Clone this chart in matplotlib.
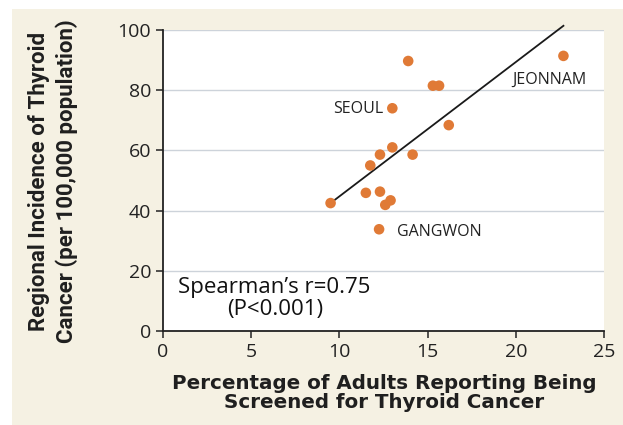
import matplotlib
matplotlib.use("Agg")
import matplotlib.pyplot as plt
from matplotlib.patches import Rectangle

# screening rate (%) vs regional incidence per 100,000
screen_pct = [13.9, 22.7, 15.65, 15.3, 13.0, 16.2, 13.0, 12.3, 14.15, 11.75,
              11.5, 12.3, 12.9, 12.6, 9.5, 12.25]
incidence = [89.7, 91.4, 81.5, 81.5, 74.0, 68.4, 61.0, 58.6, 58.6, 55.0,
             45.9, 46.3, 43.4, 41.9, 42.5, 33.8]

# fitted line endpoints
fit_x = [9.5, 22.7]
fit_y = [42.5, 101.4]

region_labels = ["SEOUL", "JEONNAM", "GANGWON"]
label_x = [12.47, 19.8, 13.27]
label_y = [73.8, 83.4, 33.0]
label_ha = ["right", "left", "left"]

x_ticks = [0, 5, 10, 15, 20, 25]
y_ticks = [0, 20, 40, 60, 80, 100]

cream = "#f5f1e3"
orange = "#e07a36"

fig = plt.figure(figsize=(6.23, 4.25), dpi=100, facecolor=cream)
# white strips at the top and left edge of the scan
fig.patches.append(Rectangle((0, 0), 12 / 623, 1, transform=fig.transFigure,
                             facecolor="white", edgecolor="none", zorder=-5))
fig.patches.append(Rectangle((0, 1 - 9 / 425), 1, 9 / 425, transform=fig.transFigure,
                             facecolor="white", edgecolor="none", zorder=-5))

ax = fig.add_axes([163 / 623, 1 - 331 / 425, 441 / 623, 301 / 425])
ax.set_facecolor("white")

ax.scatter(screen_pct, incidence, s=58, color=orange, edgecolor="none", zorder=3)
ax.plot(fit_x, fit_y, color="#1a1a1a", lw=1.3, zorder=2, clip_on=False)

for lab, lx, ly, ha in zip(region_labels, label_x, label_y, label_ha):
    ax.text(lx, ly, lab, ha=ha, va="center", fontsize=11.5, color="#222222",
            family="Open Sans")

ax.text(6.3, 14.6, "Spearman\u2019s r=0.75", ha="center", va="center",
        fontsize=16, color="#111111", family="Open Sans")
ax.text(6.35, 7.0, "(P<0.001)", ha="center", va="center",
        fontsize=16, color="#111111", family="Open Sans")

ax.set_xlim(0, 25)
ax.set_ylim(0, 100)
ax.set_xticks(x_ticks)
ax.set_yticks(y_ticks)
ax.grid(axis="y", color="#cdd3da", lw=1)
ax.set_axisbelow(True)

for s in ["top", "right"]:
    ax.spines[s].set_visible(False)
for s in ["left", "bottom"]:
    ax.spines[s].set_color("#222222")
    ax.spines[s].set_linewidth(1.3)

ax.tick_params(direction="out", length=5, width=1.1, color="#222222",
               labelsize=14, labelcolor="#222222")
for t in ax.get_xticklabels() + ax.get_yticklabels():
    t.set_family("Open Sans")

fig.text(384 / 623, 1 - 393 / 425,
         "Percentage of Adults Reporting Being\nScreened for Thyroid Cancer",
         ha="center", va="center", fontsize=14.3, fontweight="bold",
         family="DejaVu Sans", color="#1f1f1f", linespacing=1.02)
fig.text(53 / 623, 1 - 181 / 425,
         "Regional Incidence of Thyroid\nCancer (per 100,000 population)",
         ha="center", va="center", rotation=90, fontsize=16, fontweight="bold",
         family=["Liberation Sans Narrow", "Roboto", "DejaVu Sans"],
         color="#1f1f1f", linespacing=1.35)

fig.savefig("out.png", dpi=100, facecolor=cream)
